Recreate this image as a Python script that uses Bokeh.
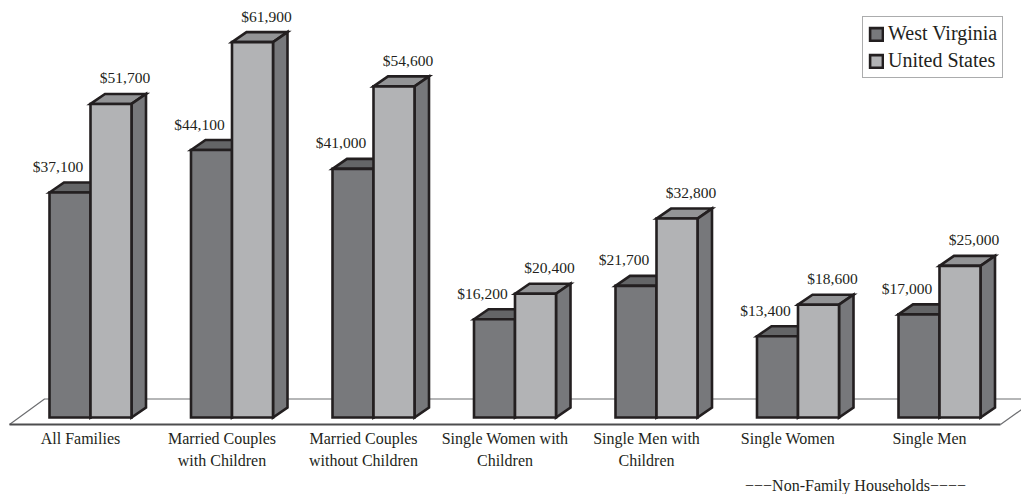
from bokeh.plotting import figure
from bokeh.models import Range1d, Legend, LegendItem
from bokeh.core.properties import value
from bokeh.embed import file_html
from bokeh.resources import INLINE

# ---- data ----
categories = ["All Families", "Married Couples\nwith Children", "Married Couples\nwithout Children",
              "Single Women with\nChildren", "Single Men with\nChildren", "Single Women", "Single Men"]
west_virginia = [37100, 44100, 41000, 16200, 21700, 13400, 17000]
united_states = [51700, 61900, 54600, 20400, 32800, 18600, 25000]
series_names = ["West Virginia", "United States"]
note_text = "\u2212\u2212\u2212Non-Family Households\u2212\u2212\u2212\u2212"

# ---- geometry (pixel -> data conversions) ----
W, H = 1021, 494
PX_PER_GROUP = 141.5
PX_PER_DOLLAR = 0.006065
X0_PX = 90.0
Y0_PX = 417.0

def dx(px):
    return px / PX_PER_GROUP

def dy(px):
    return px / PX_PER_DOLLAR

def px_x(px):
    return (px - X0_PX) / PX_PER_GROUP

def px_y(py):
    return (Y0_PX - py) / PX_PER_DOLLAR

BW = dx(41)
DX = dx(14.5)
DY = dy(10)

INK = "#231f20"
FONT = value("Liberation Serif")

p = figure(width=W, height=H, output_backend="svg", toolbar_location=None,
           x_range=Range1d(px_x(0), px_x(W)), y_range=Range1d(px_y(H), px_y(0)),
           min_border=0, x_axis_location=None, y_axis_location=None,
           outline_line_color=None, background_fill_color="white", border_fill_color="white")
p.xgrid.visible = False
p.ygrid.visible = False

# ---- floor ----
fl_x = [px_x(9), px_x(44), px_x(1036), px_x(1000)]
fl_y = [px_y(424), px_y(398.5), px_y(398.5), px_y(424)]
p.patch(fl_x, fl_y, fill_color="white", line_color=None)
p.line([fl_x[0], fl_x[1], fl_x[2]], [fl_y[0], fl_y[1], fl_y[2]], line_color="#6d6e71", line_width=1.2)
p.line([fl_x[2], fl_x[3]], [fl_y[2], fl_y[3]], line_color="#6d6e71", line_width=1.2)
p.line([fl_x[0], fl_x[3]], [fl_y[0], fl_y[3]], line_color="#4d4d4f", line_width=2.2)

# ---- bars ----
def faces(vals, offset):
    tops_x, tops_y, sides_x, sides_y, l, r, t = [], [], [], [], [], [], []
    for i, v in enumerate(vals):
        left = i + offset
        right = left + BW
        tops_x.append([left, left + DX, right + DX, right])
        tops_y.append([v, v + DY, v + DY, v])
        sides_x.append([right, right, right + DX, right + DX])
        sides_y.append([0, v, v + DY, DY])
        l.append(left); r.append(right); t.append(v)
    return tops_x, tops_y, sides_x, sides_y, l, r, t

renderers = []
styles = [("#78797c", "#646567", "#5f6062"), ("#b2b3b5", "#939496", "#77787b")]
for vals, off, (front_c, top_c, side_c) in [(west_virginia, -BW, styles[0]), (united_states, 0.0, styles[1])]:
    tx, ty, sx, sy, l, r, t = faces(vals, off)
    kw = dict(line_color=INK, line_width=2.6, line_join="miter")
    p.patches(tx, ty, fill_color=top_c, **kw)
    p.patches(sx, sy, fill_color=side_c, **kw)
    rq = p.quad(left=l, right=r, bottom=[0] * len(l), top=t, fill_color=front_c, **kw)
    renderers.append(rq)

# ---- value labels ----
idx = list(range(len(categories)))
p.text(x=[i - dx(32.5) for i in idx], y=[v + dy(26) for v in west_virginia],
       text=["${:,}".format(v) for v in west_virginia], text_font=FONT, text_font_size="15.5px",
       text_color=INK, text_align="center", text_baseline="middle")
p.text(x=[i + dx(34.5) for i in idx], y=[v + dy(26) for v in united_states],
       text=["${:,}".format(v) for v in united_states], text_font=FONT, text_font_size="15.5px",
       text_color=INK, text_align="center", text_baseline="middle")

# ---- category labels ----
p.text(x=[i - dx(10) for i in idx], y=[px_y(429)] * len(idx), text=categories, text_font=FONT,
       text_font_size="16px", text_color=INK, text_align="center", text_baseline="top",
       text_line_height=1.3)

p.text(x=[px_x(855)], y=[px_y(485)], text=[note_text], text_font=FONT, text_font_size="16px",
       text_color=INK, text_align="center", text_baseline="middle")

# ---- legend ----
legend = Legend(items=[LegendItem(label=series_names[0], renderers=[renderers[0]]),
                       LegendItem(label=series_names[1], renderers=[renderers[1]])],
                location=(862, H - 78), label_text_font="Liberation Serif", label_text_font_size="20px",
                label_text_color=INK, glyph_width=16, glyph_height=16, label_standoff=4,
                padding=5, spacing=4, margin=0, border_line_color="#58595b", border_line_width=1.2,
                background_fill_color="white", background_fill_alpha=1.0)
p.add_layout(legend, "center")

open("out.html", "w").write(file_html(p, INLINE))
